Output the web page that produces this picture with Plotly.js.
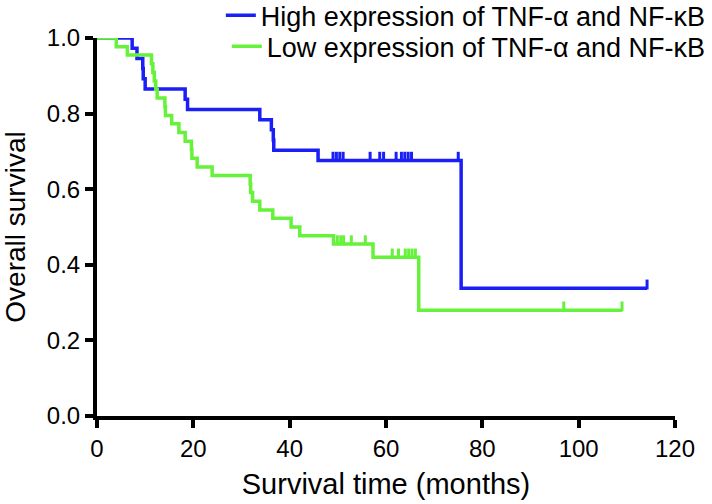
<!DOCTYPE html>
<html>
<head>
<meta charset="utf-8">
<script src="https://cdn.plot.ly/plotly-3.0.1.min.js"></script>
<style>html,body{margin:0;padding:0;background:#fff;}#chart{width:712px;height:504px;}</style>
</head>
<body>
<div id="chart"></div>
<script>
// ---- data ----
const highName = 'High expression of TNF-\u03b1 and NF-\u03baB';
const lowName = 'Low expression of TNF-\u03b1 and NF-\u03baB';

const highEventT = [7.3, 8.3, 9.5, 9.6, 10.0, 18.3, 18.8, 33.8, 36.2, 36.6, 36.7, 45.9, 75.6];
const highEventS = [0.973, 0.946, 0.919, 0.892, 0.865, 0.838, 0.811, 0.784, 0.757, 0.730, 0.703, 0.676, 0.338];
const highCensorT = [49.0, 49.7, 50.4, 51.1, 56.7, 58.7, 59.5, 62.1, 63.2, 63.9, 64.6, 65.3, 75.0, 114.2];

const lowEventT = [4.0, 6.3, 11.3, 11.6, 11.9, 12.2, 12.5, 14.1, 14.2, 15.5, 17.0, 18.3, 19.6, 19.7, 20.8, 23.9, 31.8, 31.9, 32.3, 33.8, 36.5, 40.3, 42.1, 49.1, 57.3, 66.8];
const lowEventS = [0.977, 0.955, 0.932, 0.909, 0.886, 0.864, 0.841, 0.818, 0.795, 0.773, 0.750, 0.727, 0.705, 0.682, 0.659, 0.636, 0.614, 0.591, 0.568, 0.545, 0.523, 0.500, 0.477, 0.455, 0.420, 0.280];
const lowCensorT = [49.9, 50.6, 51.2, 52.8, 55.7, 61.3, 62.6, 64.0, 64.7, 65.4, 66.1, 96.9, 109.0];

const xTicks = [0, 20, 40, 60, 80, 100, 120];
const yTicks = [0.0, 0.2, 0.4, 0.6, 0.8, 1.0];

// ---- helpers ----
function survAt(evT, evS, t) {
  let s = 1;
  for (let i = 0; i < evT.length; i++) { if (evT[i] <= t) s = evS[i]; }
  return s;
}
function stepXY(evT, evS, censT) {
  const end = Math.max(evT[evT.length - 1], censT[censT.length - 1]);
  const x = [0].concat(evT, [end]);
  const y = [1].concat(evS, [survAt(evT, evS, end)]);
  return {x, y};
}
const TICK_UP = 0.01; // lift censor marks so they sit on top of the line
function censorXY(evT, evS, censT) {
  return {x: censT.slice(), y: censT.map(t => survAt(evT, evS, t) + TICK_UP)};
}

const BLUE = '#1a1ff5';
const GREEN = '#66f23a';
const FONT = 'Liberation Sans, Arial, Helvetica, sans-serif';

const hi = stepXY(highEventT, highEventS, highCensorT);
const lo = stepXY(lowEventT, lowEventS, lowCensorT);
const hiC = censorXY(highEventT, highEventS, highCensorT);
const loC = censorXY(lowEventT, lowEventS, lowCensorT);

const traces = [
  {x: hi.x, y: hi.y, mode: 'lines', line: {shape: 'hv', color: BLUE, width: 3.5}, name: highName, legend: 'legend', cliponaxis: false},
  {x: hiC.x, y: hiC.y, mode: 'markers', marker: {symbol: 'line-ns', size: 7, line: {color: BLUE, width: 3}}, showlegend: false, cliponaxis: false, hoverinfo: 'skip'},
  {x: lo.x, y: lo.y, mode: 'lines', line: {shape: 'hv', color: GREEN, width: 3.5}, name: lowName, legend: 'legend2', cliponaxis: false},
  {x: loC.x, y: loC.y, mode: 'markers', marker: {symbol: 'line-ns', size: 7, line: {color: GREEN, width: 3}}, showlegend: false, cliponaxis: false, hoverinfo: 'skip'}
];

const axisCommon = {
  showline: true, linecolor: '#000', linewidth: 4, mirror: false,
  ticks: 'outside', ticklen: 8, tickwidth: 4, tickcolor: '#000',
  showgrid: false, zeroline: false, automargin: false,
  tickfont: {family: FONT, size: 24, color: '#000'}
};

const layout = {
  width: 712, height: 504,
  margin: {l: 97, r: 37, t: 38, b: 88, autoexpand: false},
  paper_bgcolor: '#fff', plot_bgcolor: '#fff',
  font: {family: FONT, color: '#000'},
  xaxis: Object.assign({}, axisCommon, {
    range: [0, 120], tickvals: xTicks, ticktext: xTicks.map(String),
    title: {text: 'Survival time (months)', font: {family: FONT, size: 29, color: '#000'}, standoff: 14}
  }),
  yaxis: Object.assign({}, axisCommon, {
    range: [0, 1], tickvals: yTicks, ticktext: yTicks.map(v => v.toFixed(1)),
    title: {text: 'Overall survival', font: {family: FONT, size: 28, color: '#000'}, standoff: 22}
  }),
  legend: {x: 1.062, xanchor: 'right', y: 1.059, yanchor: 'middle', bgcolor: 'rgba(0,0,0,0)', borderwidth: 0,
           font: {family: FONT, size: 27, color: '#000'}, itemwidth: 30, tracegroupgap: 0},
  legend2: {x: 1.062, xanchor: 'right', y: 0.977, yanchor: 'middle', bgcolor: 'rgba(0,0,0,0)', borderwidth: 0,
           font: {family: FONT, size: 27, color: '#000'}, itemwidth: 30, tracegroupgap: 0},
  showlegend: true
};

Plotly.newPlot('chart', traces, layout, {displayModeBar: false, staticPlot: true});
</script>
</body>
</html>
